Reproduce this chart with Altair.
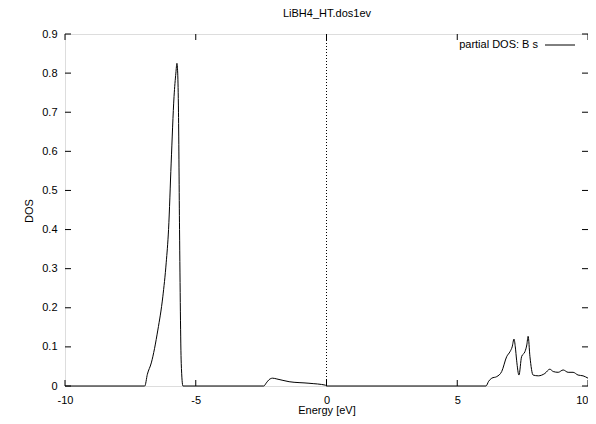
import altair as alt
import pandas as pd

energy = [-10.0, -6.95, -6.85, -6.70, -6.45, -6.26, -6.13, -6.04, -5.94, -5.83, -5.76, -5.72,
          -5.69, -5.66, -5.62, -5.555, -5.49,
          -2.40, -2.30, -2.20, -2.06, -1.90, -1.43, -0.67, -0.03, 0.0,
          6.10, 6.20, 6.32, 6.51, 6.70, 6.89, 7.02, 7.10, 7.17, 7.22, 7.27, 7.36, 7.46, 7.59, 7.66,
          7.71, 7.78, 7.90, 8.10, 8.35, 8.54, 8.67, 8.86, 9.05, 9.24, 9.43, 9.62, 9.81, 10.0]
dos = [0.0, 0.0, 0.03, 0.059, 0.143, 0.228, 0.315, 0.40, 0.57, 0.74, 0.80, 0.825,
       0.80, 0.70, 0.40, 0.058, 0.0,
       0.0, 0.008, 0.016, 0.020, 0.018, 0.011, 0.007, 0.002, 0.0,
       0.0, 0.012, 0.020, 0.024, 0.037, 0.075, 0.088, 0.10, 0.120, 0.10, 0.066, 0.028, 0.075, 0.088,
       0.105, 0.127, 0.075, 0.028, 0.026, 0.032, 0.043, 0.037, 0.035, 0.041, 0.035, 0.035, 0.028,
       0.026, 0.020]

x_ticks = [-10, -5, 0, 5, 10]
y_ticks = [0, 0.1, 0.2, 0.3, 0.4, 0.5, 0.6, 0.7, 0.8, 0.9]
title_text = "LiBH4_HT.dos1ev"
x_title = "Energy [eV]"
y_title = "DOS"
legend_text = "partial DOS: B s"

W, H = 523, 352
FONT = "Liberation Sans"

df = pd.DataFrame({"E": energy, "DOS": dos})
xt = pd.DataFrame({"E": x_ticks})
yt = pd.DataFrame({"DOS": y_ticks})

xscale = alt.Scale(domain=[-10, 10], nice=False, zero=False)
yscale = alt.Scale(domain=[0, 0.9], nice=False)

xaxis = alt.Axis(values=x_ticks, ticks=False, grid=False, domain=False, labelFontSize=11,
                 labelFont=FONT, labelColor="black", labelPadding=8, title=None,
                 labelFlush=False, labelOverlap=False, labelExpr="'' + datum.value",
                 labelAlign={"expr": "datum.value == 10 ? 'right' : 'center'"})
yaxis = alt.Axis(values=y_ticks, ticks=False, grid=False, domain=False, labelFontSize=11,
                 labelFont=FONT, labelColor="black", labelPadding=8, title=None,
                 labelFlush=False, labelOverlap=False, format=".1~f")


def X():
    return alt.X("E:Q", scale=xscale, axis=xaxis)


def Y():
    return alt.Y("DOS:Q", scale=yscale, axis=yaxis)


line = alt.Chart(df).mark_line(color="black", strokeWidth=1, interpolate="monotone").encode(
    x=X(), y=Y())

zero_line = alt.Chart(pd.DataFrame({"E": [0]})).mark_rule(
    color="black", strokeWidth=1, strokeDash=[1, 2]).encode(x=X())

tick_len = 6
bx = alt.Chart(xt).mark_rule(color="black", strokeWidth=1).encode(
    x=X(), y=alt.value(H), y2=alt.value(H - tick_len))
tx = alt.Chart(xt).mark_rule(color="black", strokeWidth=1).encode(
    x=X(), y=alt.value(0), y2=alt.value(tick_len))
ly = alt.Chart(yt).mark_rule(color="black", strokeWidth=1).encode(
    y=Y(), x=alt.value(0), x2=alt.value(tick_len))
ry = alt.Chart(yt).mark_rule(color="black", strokeWidth=1).encode(
    y=Y(), x=alt.value(W - tick_len), x2=alt.value(W))

leg_text = alt.Chart(pd.DataFrame({"t": [legend_text]})).mark_text(
    align="right", baseline="middle", font=FONT, fontSize=11, color="black").encode(
    text="t:N", x=alt.value(473), y=alt.value(11))
leg_line = alt.Chart(pd.DataFrame({"t": [legend_text]})).mark_rule(color="black", strokeWidth=1).encode(
    x=alt.value(480), x2=alt.value(510), y=alt.value(11))

title_mark = alt.Chart(pd.DataFrame({"t": [title_text]})).mark_text(
    align="center", baseline="middle", font=FONT, fontSize=11, color="black").encode(
    text="t:N", x=alt.value(262), y=alt.value(-20))
xtitle_mark = alt.Chart(pd.DataFrame({"t": [x_title]})).mark_text(
    align="center", baseline="alphabetic", font=FONT, fontSize=11, color="black").encode(
    text="t:N", x=alt.value(262), y=alt.value(H + 28))
ytitle_mark = alt.Chart(pd.DataFrame({"t": [y_title]})).mark_text(
    align="center", baseline="middle", font=FONT, fontSize=11, color="black", angle=270).encode(
    text="t:N", x=alt.value(-35), y=alt.value(177))

chart = alt.layer(line, zero_line, bx, tx, ly, ry, leg_line, leg_text,
                  title_mark, xtitle_mark, ytitle_mark).properties(
    width=W, height=H,
    autosize=alt.AutoSizeParams(type="none"),
    padding={"left": 57, "top": 26, "right": 0, "bottom": 30},
).configure_view(stroke="black", strokeWidth=1).configure(background="white")

chart.save("out.html", embed_options={"renderer": "svg", "actions": False})
